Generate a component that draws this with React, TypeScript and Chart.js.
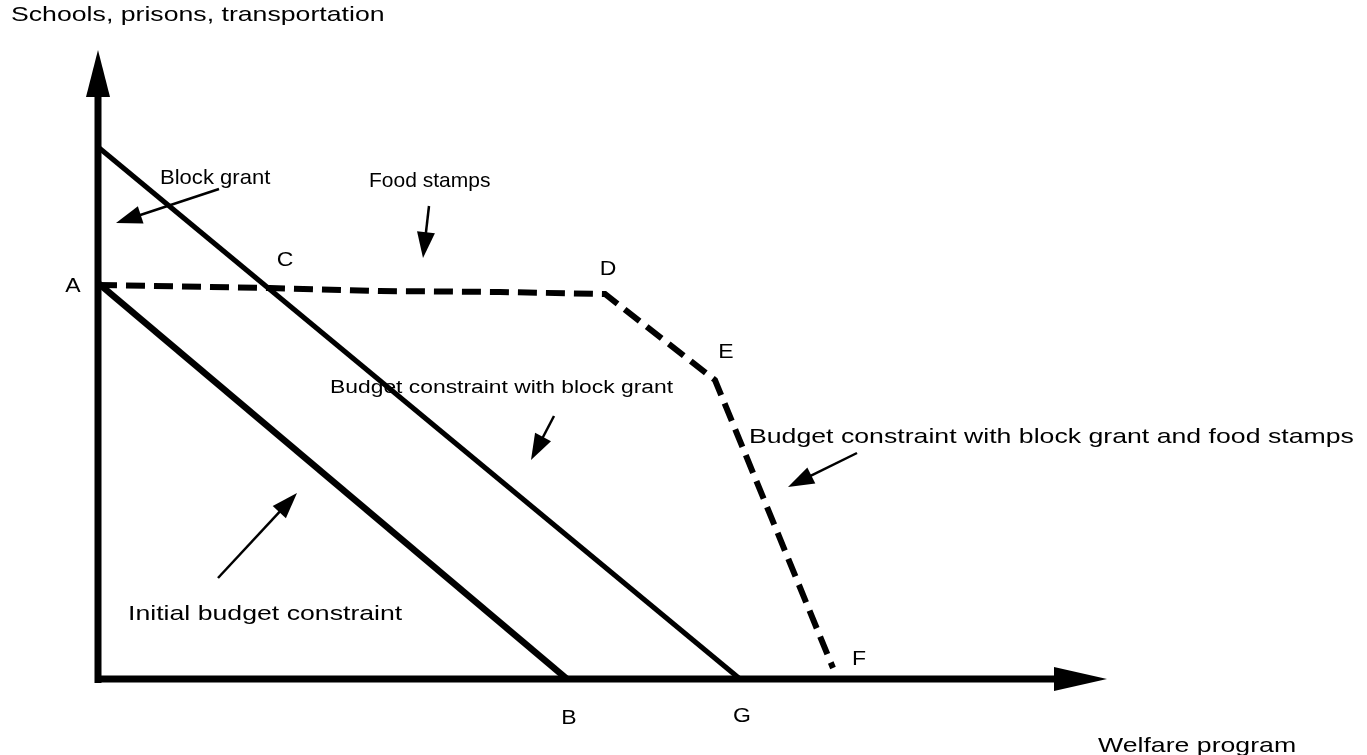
import { useEffect, useRef } from "react";
import { Chart, registerables } from "chart.js";

Chart.register(...registerables);

// ---- data (x = welfare program, y = schools, prisons, transportation) ----
const initialX = [0, 469];
const initialY = [396, 0];
const blockGrantX = [0, 642];
const blockGrantY = [532, 0];
const stampsX = [0, 172, 282, 402, 507, 617, 735];
const stampsY = [394, 391, 388, 387, 385, 299, 11];
const xAxisEnd = 1009;
const yAxisEnd = 629;

const pointNames = ["A", "B", "C", "D", "E", "F", "G"];
const pointNameX = [-25, 471, 187, 510, 628, 761, 644];
const pointNameY = [393, -39, 419, 410, 327, 20, -37];

const labelTexts = [
  "Block grant",
  "Food stamps",
  "Budget constraint with block grant",
  "Budget constraint with block grant and food stamps",
  "Initial budget constraint",
];
const labelX = [62, 271, 232, 651, 30];
const labelY = [501, 498, 291, 242, 65];
const labelSize = [21, 21, 18, 21, 21];
const labelStretch = [1.05, 1.0, 1.27, 1.27, 1.27];

// annotation arrows: from -> to
const arrowFromX = [121, 331, 456, 759, 120];
const arrowFromY = [490, 473, 263, 226, 101];
const arrowToX = [18, 325, 433, 690, 199];
const arrowToY = [456, 421, 219, 192, 186];

const xTitle = "Welfare program";
const yTitle = "Schools, prisons, transportation";

const FONT = '"Liberation Sans", Arial, Helvetica, sans-serif';
const STRETCH = 1.27;

function pts(xs: number[], ys: number[]) {
  return xs.map((x, i) => ({ x, y: ys[i] }));
}

function drawText(ctx: CanvasRenderingContext2D, t: string, x: number, y: number, size: number, align: CanvasTextAlign = "left", stretch = STRETCH) {
  ctx.save();
  ctx.font = `${size}px ${FONT}`;
  ctx.fillStyle = "#000";
  ctx.textAlign = align;
  ctx.textBaseline = "middle";
  ctx.translate(x, y);
  ctx.scale(stretch, 1);
  ctx.fillText(t, 0, 0);
  ctx.restore();
}

function drawArrow(ctx: CanvasRenderingContext2D, x1: number, y1: number, x2: number, y2: number, lw: number, headLen: number, headHalf: number) {
  const dx = x2 - x1;
  const dy = y2 - y1;
  const len = Math.hypot(dx, dy);
  const ux = dx / len;
  const uy = dy / len;
  const bx = x2 - ux * headLen;
  const by = y2 - uy * headLen;
  ctx.save();
  ctx.strokeStyle = "#000";
  ctx.fillStyle = "#000";
  ctx.lineWidth = lw;
  ctx.beginPath();
  ctx.moveTo(x1, y1);
  ctx.lineTo(bx + ux * 2, by + uy * 2);
  ctx.stroke();
  ctx.beginPath();
  ctx.moveTo(x2, y2);
  ctx.lineTo(bx - uy * headHalf, by + ux * headHalf);
  ctx.lineTo(bx + uy * headHalf, by - ux * headHalf);
  ctx.closePath();
  ctx.fill();
  ctx.restore();
}

const diagramPlugin = {
  id: "diagram",
  afterDatasetsDraw(chart: any) {
    const ctx: CanvasRenderingContext2D = chart.ctx;
    const xs = chart.scales.x;
    const ys = chart.scales.y;
    const px = (v: number) => xs.getPixelForValue(v);
    const py = (v: number) => ys.getPixelForValue(v);

    // axes with arrowheads
    drawArrow(ctx, px(0), py(-4), px(0), py(yAxisEnd), 7, 47, 12);
    drawArrow(ctx, px(0), py(0), px(xAxisEnd), py(0), 7, 53, 12);

    // annotation arrows
    for (let i = 0; i < arrowFromX.length; i++) {
      drawArrow(ctx, px(arrowFromX[i]), py(arrowFromY[i]), px(arrowToX[i]), py(arrowToY[i]), 2.5, 26, 9);
    }

    // point names
    for (let i = 0; i < pointNames.length; i++) {
      drawText(ctx, pointNames[i], px(pointNameX[i]), py(pointNameY[i]), 20, "center", 1.15);
    }

    // labels
    for (let i = 0; i < labelTexts.length; i++) {
      drawText(ctx, labelTexts[i], px(labelX[i]), py(labelY[i]), labelSize[i], "left", labelStretch[i]);
    }

    // axis titles
    drawText(ctx, yTitle, 11, 15, 21, "left");
    drawText(ctx, xTitle, 1098, 746, 21, "left");
  },
};

export default function App() {
  const ref = useRef<HTMLCanvasElement | null>(null);

  useEffect(() => {
    document.body.style.margin = "0";
    const canvas = ref.current;
    if (!canvas) return;
    const chart = new Chart(canvas, {
      type: "scatter",
      data: {
        datasets: [
          {
            label: "Initial budget constraint",
            data: pts(initialX, initialY),
            showLine: true,
            borderColor: "#000",
            borderWidth: 6.5,
            pointRadius: 0,
          },
          {
            label: "Budget constraint with block grant",
            data: pts(blockGrantX, blockGrantY),
            showLine: true,
            borderColor: "#000",
            borderWidth: 5,
            pointRadius: 0,
          },
          {
            label: "Budget constraint with block grant and food stamps",
            data: pts(stampsX, stampsY),
            showLine: true,
            borderColor: "#000",
            borderWidth: 6,
            borderDash: [19, 9],
            pointRadius: 0,
          },
        ],
      },
      options: {
        animation: false,
        responsive: false,
        maintainAspectRatio: false,
        layout: { padding: 0 },
        plugins: { legend: { display: false }, tooltip: { enabled: false } },
        scales: {
          x: { type: "linear", min: -98, max: 1269, display: false },
          y: { type: "linear", min: -76, max: 679, display: false },
        },
      },
      plugins: [diagramPlugin],
    });
    return () => chart.destroy();
  }, []);

  return (
    <div style={{ width: 1367, height: 755, background: "#fff" }}>
      <canvas ref={ref} width={1367} height={755} style={{ display: "block" }} />
    </div>
  );
}
